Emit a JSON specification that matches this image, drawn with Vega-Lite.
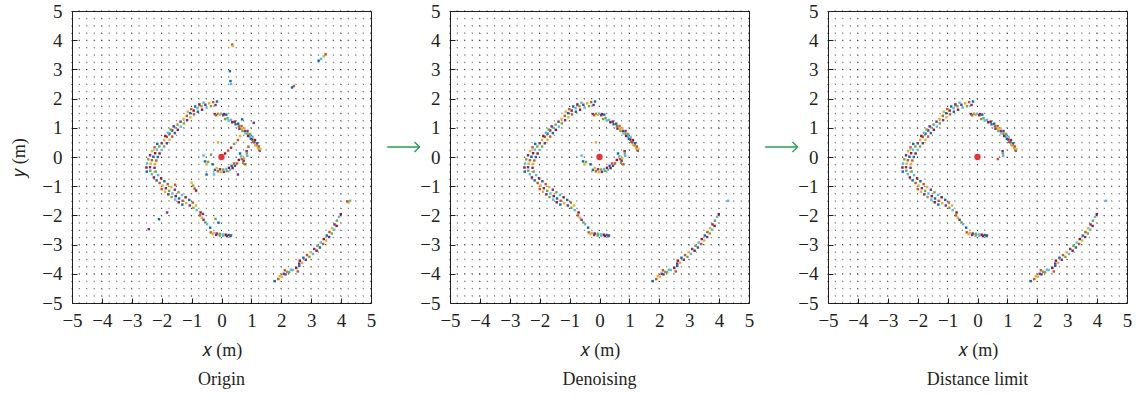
{
  "$schema": "https://vega.github.io/schema/vega-lite/v6.json",
  "padding": {"left": 10, "top": 1, "right": 2, "bottom": 2},
  "spacing": 9,
  "config": {
    "font": "Liberation Serif",
    "view": {"stroke": "#231F20", "strokeWidth": 1},
    "axis": {"labelOverlap": false, "labelBound": false, "tickCount": 20},
    "title": {"font": "Liberation Serif", "fontSize": 18, "fontWeight": "normal", "color": "#231F20"}
  },
  "datasets": {
    "grid": [{"v":-5},{"v":-4.75},{"v":-4.5},{"v":-4.25},{"v":-4},{"v":-3.75},{"v":-3.5},{"v":-3.25},{"v":-3},{"v":-2.75},{"v":-2.5},{"v":-2.25},{"v":-2},{"v":-1.75},{"v":-1.5},{"v":-1.25},{"v":-1},{"v":-0.75},{"v":-0.5},{"v":-0.25},{"v":0},{"v":0.25},{"v":0.5},{"v":0.75},{"v":1},{"v":1.25},{"v":1.5},{"v":1.75},{"v":2},{"v":2.25},{"v":2.5},{"v":2.75},{"v":3},{"v":3.25},{"v":3.5},{"v":3.75},{"v":4},{"v":4.25},{"v":4.5},{"v":4.75},{"v":5}],
    "origin": [{"x": 0, "y": 0}],
    "arrow": [{"x": -7.1, "x2": -6.02, "y": 0.34}],
    "pts": [
      {"x":-0.15,"y":1.9,"s":3,"c":0},{"x":-0.28,"y":1.88,"s":3,"c":1},{"x":-0.41,"y":1.84,"s":3,"c":2},{"x":-0.54,"y":1.79,"s":3,"c":3},{"x":-0.67,"y":1.74,"s":3,"c":4},{"x":-0.8,"y":1.67,"s":3,"c":5},{"x":-0.93,"y":1.59,"s":3,"c":6},{"x":-1.05,"y":1.5,"s":3,"c":0},{"x":-1.16,"y":1.41,"s":3,"c":1},{"x":-1.27,"y":1.31,"s":3,"c":2},{"x":-1.37,"y":1.21,"s":3,"c":3},{"x":-1.47,"y":1.11,"s":3,"c":4},{"x":-1.56,"y":1.01,"s":3,"c":5},{"x":-1.65,"y":0.91,"s":3,"c":6},{"x":-1.74,"y":0.8,"s":3,"c":0},{"x":-1.83,"y":0.69,"s":3,"c":1},{"x":-1.92,"y":0.58,"s":3,"c":2},{"x":-2.0,"y":0.47,"s":3,"c":3},{"x":-2.08,"y":0.36,"s":3,"c":4},{"x":-2.16,"y":0.25,"s":3,"c":5},{"x":-2.22,"y":0.13,"s":3,"c":6},{"x":-2.28,"y":0.01,"s":3,"c":0},{"x":-2.33,"y":-0.11,"s":3,"c":1},{"x":-2.37,"y":-0.23,"s":3,"c":2},{"x":-2.39,"y":-0.35,"s":3,"c":3},{"x":-2.38,"y":-0.47,"s":3,"c":4},{"x":-2.33,"y":-0.59,"s":3,"c":5},{"x":-2.26,"y":-0.7,"s":3,"c":6},{"x":-2.17,"y":-0.8,"s":3,"c":0},{"x":-2.07,"y":-0.89,"s":3,"c":1},{"x":-1.97,"y":-0.98,"s":3,"c":2},{"x":-1.86,"y":-1.07,"s":3,"c":3},{"x":-1.75,"y":-1.16,"s":3,"c":4},{"x":-1.64,"y":-1.25,"s":3,"c":5},{"x":-1.53,"y":-1.34,"s":3,"c":6},{"x":-1.42,"y":-1.42,"s":3,"c":0},{"x":-1.3,"y":-1.5,"s":3,"c":1},{"x":-1.18,"y":-1.58,"s":3,"c":2},{"x":-1.06,"y":-1.66,"s":3,"c":3},{"x":-0.94,"y":-1.74,"s":3,"c":4},{"x":-0.83,"y":-1.82,"s":3,"c":5},
      {"x":-0.2,"y":1.78,"s":3,"c":3},{"x":-0.35,"y":1.74,"s":3,"c":4},{"x":-0.5,"y":1.69,"s":3,"c":5},{"x":-0.65,"y":1.62,"s":3,"c":6},{"x":-0.79,"y":1.55,"s":3,"c":0},{"x":-0.92,"y":1.46,"s":3,"c":1},{"x":-1.04,"y":1.36,"s":3,"c":2},{"x":-1.15,"y":1.26,"s":3,"c":3},{"x":-1.26,"y":1.15,"s":3,"c":4},{"x":-1.36,"y":1.04,"s":3,"c":5},{"x":-1.46,"y":0.93,"s":3,"c":6},{"x":-1.56,"y":0.82,"s":3,"c":0},{"x":-1.65,"y":0.7,"s":3,"c":1},{"x":-1.74,"y":0.59,"s":3,"c":2},{"x":-1.83,"y":0.47,"s":3,"c":3},{"x":-1.92,"y":0.36,"s":3,"c":4},{"x":-2.0,"y":0.24,"s":3,"c":5},{"x":-2.07,"y":0.12,"s":3,"c":6},{"x":-2.13,"y":0.0,"s":3,"c":0},{"x":-2.18,"y":-0.12,"s":3,"c":1},{"x":-2.22,"y":-0.24,"s":3,"c":2},{"x":-2.24,"y":-0.37,"s":3,"c":3},{"x":-2.2,"y":-0.5,"s":3,"c":4},{"x":-2.12,"y":-0.62,"s":3,"c":5},{"x":-2.02,"y":-0.73,"s":3,"c":6},{"x":-1.91,"y":-0.83,"s":3,"c":0},{"x":-1.8,"y":-0.93,"s":3,"c":1},{"x":-1.68,"y":-1.03,"s":3,"c":2},{"x":-1.56,"y":-1.12,"s":3,"c":3},{"x":-1.44,"y":-1.21,"s":3,"c":4},{"x":-1.32,"y":-1.3,"s":3,"c":5},{"x":-1.2,"y":-1.38,"s":3,"c":6},{"x":-1.08,"y":-1.47,"s":3,"c":0},{"x":-0.96,"y":-1.56,"s":3,"c":1},{"x":-0.85,"y":-1.66,"s":3,"c":2},
      {"x":-0.6,"y":1.86,"s":3,"c":5},{"x":-0.74,"y":1.8,"s":3,"c":6},{"x":-0.88,"y":1.73,"s":3,"c":0},{"x":-1.01,"y":1.64,"s":3,"c":1},{"x":-1.13,"y":1.55,"s":3,"c":2},{"x":-1.6,"y":1.05,"s":3,"c":3},{"x":-1.7,"y":0.94,"s":3,"c":4},{"x":-1.79,"y":0.83,"s":3,"c":5},{"x":-1.88,"y":0.72,"s":3,"c":6},{"x":-2.15,"y":0.45,"s":3,"c":0},{"x":-2.24,"y":0.33,"s":3,"c":1},{"x":-2.32,"y":0.2,"s":3,"c":2},{"x":-2.39,"y":0.06,"s":3,"c":3},{"x":-2.45,"y":-0.08,"s":3,"c":4},{"x":-2.49,"y":-0.22,"s":3,"c":5},{"x":-2.51,"y":-0.36,"s":3,"c":6},{"x":-2.5,"y":-0.5,"s":3,"c":0},{"x":-2.0,"y":-1.1,"s":3,"c":1},{"x":-1.89,"y":-1.19,"s":3,"c":2},{"x":-1.78,"y":-1.28,"s":3,"c":3},{"x":-1.67,"y":-1.37,"s":3,"c":4},{"x":-1.55,"y":-1.46,"s":3,"c":5},{"x":-1.43,"y":-1.55,"s":3,"c":6},{"x":-1.31,"y":-1.63,"s":3,"c":0},
      {"x":-0.72,"y":-2.0,"s":3,"c":1},{"x":-0.66,"y":-2.08,"s":3,"c":2},{"x":-0.6,"y":-2.15,"s":3,"c":3},{"x":-0.54,"y":-2.24,"s":3,"c":4},{"x":-0.48,"y":-2.3,"s":3,"c":5},{"x":-0.7,"y":-1.9,"s":3,"c":6},{"x":-0.38,"y":-2.42,"s":3,"c":0},
      {"x":-0.36,"y":-2.58,"s":3,"c":1},{"x":-0.26,"y":-2.6,"s":3,"c":2},{"x":-0.16,"y":-2.62,"s":3,"c":3},{"x":-0.06,"y":-2.63,"s":3,"c":4},{"x":0.04,"y":-2.65,"s":3,"c":5},{"x":0.14,"y":-2.66,"s":3,"c":6},{"x":0.24,"y":-2.67,"s":3,"c":0},{"x":0.32,"y":-2.68,"s":3,"c":1},{"x":-0.3,"y":-2.64,"s":3,"c":2},{"x":-0.18,"y":-2.67,"s":3,"c":3},{"x":-0.06,"y":-2.69,"s":3,"c":4},{"x":0.06,"y":-2.7,"s":3,"c":5},{"x":0.18,"y":-2.71,"s":3,"c":6},{"x":0.3,"y":-2.71,"s":3,"c":0},
      {"x":-0.22,"y":1.47,"s":3,"c":3},{"x":-0.12,"y":1.48,"s":3,"c":4},{"x":-0.02,"y":1.48,"s":3,"c":5},{"x":0.08,"y":1.47,"s":3,"c":6},{"x":0.16,"y":1.45,"s":3,"c":0},{"x":-0.18,"y":1.43,"s":3,"c":1},{"x":-0.06,"y":1.44,"s":3,"c":2},{"x":0.06,"y":1.43,"s":3,"c":3},
      {"x":0.12,"y":1.3,"s":3,"c":4},{"x":0.24,"y":1.25,"s":3,"c":5},{"x":0.36,"y":1.19,"s":3,"c":6},{"x":0.47,"y":1.12,"s":3,"c":0},{"x":0.58,"y":1.05,"s":3,"c":1},{"x":0.68,"y":0.97,"s":3,"c":2},{"x":0.78,"y":0.89,"s":3,"c":3},{"x":0.87,"y":0.8,"s":3,"c":4},{"x":0.95,"y":0.7,"s":3,"c":5},{"x":1.03,"y":0.6,"s":3,"c":6},{"x":1.1,"y":0.5,"s":3,"c":0},{"x":1.17,"y":0.4,"s":3,"c":1},{"x":1.23,"y":0.3,"s":3,"c":2},{"x":1.28,"y":0.22,"s":3,"c":3},
      {"x":0.2,"y":1.33,"s":3,"c":4},{"x":0.32,"y":1.27,"s":3,"c":5},{"x":0.44,"y":1.21,"s":3,"c":6},{"x":0.56,"y":1.14,"s":3,"c":0},{"x":0.67,"y":1.06,"s":3,"c":1},{"x":0.77,"y":0.98,"s":3,"c":2},{"x":0.87,"y":0.89,"s":3,"c":3},{"x":0.96,"y":0.79,"s":3,"c":4},{"x":1.04,"y":0.69,"s":3,"c":5},{"x":1.12,"y":0.58,"s":3,"c":6},{"x":1.19,"y":0.47,"s":3,"c":0},{"x":1.25,"y":0.36,"s":3,"c":1},{"x":1.3,"y":0.27,"s":3,"c":2},
      {"x":0.6,"y":0.97,"s":3,"c":3},{"x":0.7,"y":0.89,"s":3,"c":4},{"x":0.8,"y":0.81,"s":3,"c":5},{"x":0.89,"y":0.72,"s":3,"c":6},{"x":0.98,"y":0.62,"s":3,"c":0},{"x":1.06,"y":0.52,"s":3,"c":1},{"x":1.13,"y":0.41,"s":3,"c":2},
      {"x":0.84,"y":0.2,"s":3,"c":3},{"x":0.85,"y":0.12,"s":3,"c":4},{"x":0.86,"y":0.04,"s":3,"c":5},{"x":0.68,"y":-0.07,"s":3,"c":1},
      {"x":1.78,"y":-4.25,"s":3,"c":0},{"x":1.9,"y":-4.18,"s":3,"c":1},{"x":2.02,"y":-4.1,"s":3,"c":2},{"x":2.14,"y":-4.02,"s":3,"c":3},{"x":2.26,"y":-3.95,"s":3,"c":4},{"x":2.38,"y":-3.87,"s":3,"c":5},{"x":2.5,"y":-3.8,"s":3,"c":6},{"x":2.6,"y":-3.73,"s":3,"c":0},
      {"x":1.95,"y":-4.08,"s":3,"c":2},{"x":2.08,"y":-4.0,"s":3,"c":3},{"x":2.2,"y":-3.93,"s":3,"c":4},{"x":2.32,"y":-3.86,"s":3,"c":5},{"x":2.55,"y":-3.92,"s":3,"c":1},{"x":2.12,"y":-3.88,"s":3,"c":1},
      {"x":2.62,"y":-3.55,"s":3,"c":6},{"x":2.74,"y":-3.45,"s":3,"c":0},{"x":2.86,"y":-3.36,"s":3,"c":1},{"x":2.98,"y":-3.26,"s":3,"c":2},{"x":3.1,"y":-3.15,"s":3,"c":3},{"x":3.21,"y":-3.04,"s":3,"c":4},{"x":3.32,"y":-2.93,"s":3,"c":5},{"x":3.42,"y":-2.81,"s":3,"c":6},{"x":3.52,"y":-2.69,"s":3,"c":0},{"x":3.61,"y":-2.57,"s":3,"c":1},{"x":3.7,"y":-2.44,"s":3,"c":2},{"x":3.78,"y":-2.31,"s":3,"c":3},{"x":3.86,"y":-2.18,"s":3,"c":4},{"x":3.93,"y":-2.05,"s":3,"c":5},{"x":3.99,"y":-1.96,"s":3,"c":6},
      {"x":2.7,"y":-3.62,"s":3,"c":2},{"x":2.82,"y":-3.52,"s":3,"c":3},{"x":2.94,"y":-3.42,"s":3,"c":4},{"x":3.06,"y":-3.32,"s":3,"c":5},{"x":3.18,"y":-3.21,"s":3,"c":6},{"x":3.29,"y":-3.1,"s":3,"c":0},{"x":3.4,"y":-2.98,"s":3,"c":1},{"x":3.5,"y":-2.86,"s":3,"c":2},{"x":3.6,"y":-2.74,"s":3,"c":3},{"x":3.69,"y":-2.62,"s":3,"c":4},{"x":3.77,"y":-2.49,"s":3,"c":5},{"x":3.85,"y":-2.36,"s":3,"c":6},
      {"x":2.6,"y":-3.65,"s":3,"c":3},{"x":4.3,"y":-1.5,"s":3,"c":5},
      {"x":-0.22,"y":-0.44,"s":2,"c":0},{"x":-0.12,"y":-0.49,"s":2,"c":1},{"x":-0.02,"y":-0.52,"s":2,"c":2},{"x":0.08,"y":-0.51,"s":2,"c":3},{"x":0.18,"y":-0.48,"s":2,"c":4},{"x":0.28,"y":-0.44,"s":2,"c":5},{"x":0.37,"y":-0.38,"s":2,"c":6},{"x":0.45,"y":-0.3,"s":2,"c":0},{"x":0.52,"y":-0.22,"s":2,"c":1},{"x":-0.16,"y":-0.38,"s":2,"c":2},{"x":-0.05,"y":-0.42,"s":2,"c":3},{"x":0.05,"y":-0.43,"s":2,"c":4},{"x":0.15,"y":-0.41,"s":2,"c":5},{"x":0.25,"y":-0.37,"s":2,"c":6},{"x":0.34,"y":-0.3,"s":2,"c":0},{"x":0.42,"y":-0.22,"s":2,"c":1},
      {"x":0.76,"y":-0.05,"s":2,"c":2},{"x":0.74,"y":-0.13,"s":2,"c":3},{"x":0.72,"y":-0.2,"s":2,"c":4},{"x":0.66,"y":0.02,"s":2,"c":5},{"x":0.58,"y":-0.1,"s":2,"c":6},{"x":0.62,"y":0.12,"s":2,"c":0},{"x":0.8,"y":-0.25,"s":2,"c":1},
      {"x":-0.45,"y":-0.17,"s":2,"c":4},{"x":-0.3,"y":-0.25,"s":2,"c":0},{"x":-0.12,"y":0.5,"s":2,"c":2},{"x":-0.6,"y":0.05,"s":2,"c":5},{"x":-0.55,"y":-0.15,"s":2,"c":0},{"x":-0.5,"y":-0.25,"s":2,"c":2},
      {"x":0.36,"y":3.85,"s":1,"c":1},{"x":0.38,"y":3.8,"s":1,"c":2},{"x":0.28,"y":2.94,"s":1,"c":0},{"x":0.3,"y":2.6,"s":1,"c":0},{"x":0.32,"y":2.5,"s":1,"c":5},{"x":2.42,"y":2.43,"s":1,"c":1},{"x":2.36,"y":2.38,"s":1,"c":0},{"x":3.25,"y":3.3,"s":1,"c":0},{"x":3.33,"y":3.36,"s":1,"c":5},{"x":3.42,"y":3.45,"s":1,"c":2},{"x":3.48,"y":3.52,"s":1,"c":1},{"x":4.25,"y":-1.56,"s":1,"c":2},{"x":4.2,"y":-1.52,"s":1,"c":1},{"x":-2.09,"y":-2.13,"s":1,"c":0},{"x":-2.43,"y":-2.47,"s":1,"c":3},{"x":-1.82,"y":-1.9,"s":1,"c":3},{"x":1.08,"y":1.17,"s":1,"c":3},{"x":0.69,"y":1.29,"s":1,"c":0},{"x":-1.0,"y":-0.88,"s":1,"c":2},{"x":-0.95,"y":-0.98,"s":1,"c":4},{"x":-0.9,"y":-1.08,"s":1,"c":1},{"x":-0.85,"y":-1.15,"s":1,"c":6},{"x":0.12,"y":0.12,"s":1,"c":6},{"x":0.22,"y":0.22,"s":1,"c":1},{"x":0.32,"y":0.32,"s":1,"c":3},{"x":0.42,"y":0.45,"s":1,"c":4},{"x":0.55,"y":0.58,"s":1,"c":1},{"x":0.62,"y":0.72,"s":1,"c":2},{"x":-0.35,"y":0.08,"s":1,"c":4},{"x":-0.5,"y":-0.6,"s":1,"c":0},{"x":-0.25,"y":-0.6,"s":1,"c":5},{"x":0.55,"y":-0.6,"s":1,"c":3},{"x":-1.55,"y":-0.95,"s":1,"c":1},{"x":-0.1,"y":-2.25,"s":1,"c":0},{"x":-0.2,"y":-2.12,"s":1,"c":4},{"x":-0.62,"y":-1.95,"s":1,"c":3},{"x":0.9,"y":0.35,"s":1,"c":1}
    ]
  },
  "hconcat": [
    {
      "width": 299, "height": 292,
      "title": {"text": "Origin", "orient": "bottom", "offset": 12},
      "layer": [
        {
          "data": {"name": "grid"},
          "mark": {"type": "rule", "color": "#000", "strokeWidth": 1, "strokeDash": [1, 6.3]},
          "encoding": {
            "x": {"field": "v", "type": "quantitative", "scale": {"domain": [-5, 5], "nice": false, "zero": false},
              "axis": {"title": "𝑥 (m)", "values": [-5,-4,-3,-2,-1,0,1,2,3,4,5], "tickCount": 20, "format": "d", "labelOverlap": false, "labelFlush": false,
                "labelFont": "Liberation Serif", "labelFontSize": 19, "labelColor": "#231F20", "labelPadding": 13,
                "titleFont": "Liberation Serif", "titleFontSize": 18, "titleFontWeight": "normal", "titleColor": "#231F20", "titlePadding": 11,
                "domain": false, "ticks": true, "tickSize": -5, "tickColor": "#231F20", "grid": false}},
            "opacity": {"condition": {"test": "datum.v % 1 === 0", "value": 0.85}, "value": 0.45}
          }
        },
        {
          "data": {"name": "grid"},
          "mark": {"type": "rule", "color": "#000", "strokeWidth": 1, "strokeDash": [1, 6.47]},
          "encoding": {
            "y": {"field": "v", "type": "quantitative", "scale": {"domain": [-5, 5], "nice": false, "zero": false},
              "axis": {"title": "𝑦 (m)", "values": [-5,-4,-3,-2,-1,0,1,2,3,4,5], "tickCount": 20, "format": "d", "labelOverlap": false, "labelFlush": false,
                "labelFont": "Liberation Serif", "labelFontSize": 19, "labelColor": "#231F20", "labelPadding": 15,
                "titleFont": "Liberation Serif", "titleFontSize": 18, "titleFontWeight": "normal", "titleColor": "#231F20", "titlePadding": 13,
                "domain": false, "ticks": true, "tickSize": -5, "tickColor": "#231F20", "grid": false}},
            "opacity": {"condition": {"test": "datum.v % 1 === 0", "value": 0.85}, "value": 0.45}
          }
        },
        {
          "data": {"name": "pts"},
          "mark": {"type": "point", "shape": "square", "filled": true, "size": 6, "opacity": 1},
          "encoding": {
            "x": {"field": "x", "type": "quantitative"},
            "y": {"field": "y", "type": "quantitative"},
            "color": {"field": "c", "type": "nominal", "legend": null,
              "scale": {"domain": [0,1,2,3,4,5,6], "range": ["#0072BD","#D95319","#EDB120","#7E2F8E","#77AC30","#4DBEEE","#A2142F"]}}
          }
        },
        {
          "data": {"name": "origin"},
          "mark": {"type": "point", "shape": "circle", "filled": true, "size": 40, "color": "#F03030", "opacity": 1},
          "encoding": {"x": {"field": "x", "type": "quantitative"}, "y": {"field": "y", "type": "quantitative"}}
        }
      ]
    },
    {
      "width": 299, "height": 292,
      "title": {"text": "Denoising", "orient": "bottom", "offset": 12},
      "layer": [
        {
          "data": {"name": "grid"},
          "mark": {"type": "rule", "color": "#000", "strokeWidth": 1, "strokeDash": [1, 6.3]},
          "encoding": {
            "x": {"field": "v", "type": "quantitative", "scale": {"domain": [-5, 5], "nice": false, "zero": false},
              "axis": {"title": "𝑥 (m)", "values": [-5,-4,-3,-2,-1,0,1,2,3,4,5], "tickCount": 20, "format": "d", "labelOverlap": false, "labelFlush": false,
                "labelFont": "Liberation Serif", "labelFontSize": 19, "labelColor": "#231F20", "labelPadding": 13,
                "titleFont": "Liberation Serif", "titleFontSize": 18, "titleFontWeight": "normal", "titleColor": "#231F20", "titlePadding": 11,
                "domain": false, "ticks": true, "tickSize": -5, "tickColor": "#231F20", "grid": false}},
            "opacity": {"condition": {"test": "datum.v % 1 === 0", "value": 0.85}, "value": 0.45}
          }
        },
        {
          "data": {"name": "grid"},
          "mark": {"type": "rule", "color": "#000", "strokeWidth": 1, "strokeDash": [1, 6.47]},
          "encoding": {
            "y": {"field": "v", "type": "quantitative", "scale": {"domain": [-5, 5], "nice": false, "zero": false},
              "axis": {"title": null, "values": [-5,-4,-3,-2,-1,0,1,2,3,4,5], "tickCount": 20, "format": "d", "labelOverlap": false, "labelFlush": false,
                "labelFont": "Liberation Serif", "labelFontSize": 19, "labelColor": "#231F20", "labelPadding": 15,
                "domain": false, "ticks": true, "tickSize": -5, "tickColor": "#231F20", "grid": false}},
            "opacity": {"condition": {"test": "datum.v % 1 === 0", "value": 0.85}, "value": 0.45}
          }
        },
        {
          "data": {"name": "pts"},
          "transform": [{"filter": "datum.s >= 2"}],
          "mark": {"type": "point", "shape": "square", "filled": true, "size": 6, "opacity": 1},
          "encoding": {
            "x": {"field": "x", "type": "quantitative"},
            "y": {"field": "y", "type": "quantitative"},
            "color": {"field": "c", "type": "nominal", "legend": null,
              "scale": {"domain": [0,1,2,3,4,5,6], "range": ["#0072BD","#D95319","#EDB120","#7E2F8E","#77AC30","#4DBEEE","#A2142F"]}}
          }
        },
        {
          "data": {"name": "origin"},
          "mark": {"type": "point", "shape": "circle", "filled": true, "size": 40, "color": "#F03030", "opacity": 1},
          "encoding": {"x": {"field": "x", "type": "quantitative"}, "y": {"field": "y", "type": "quantitative"}}
        },
        {
          "data": {"name": "arrow"},
          "mark": {"type": "rule", "color": "#22A04B", "strokeWidth": 1.4, "clip": false},
          "encoding": {"x": {"field": "x", "type": "quantitative"}, "x2": {"field": "x2"}, "y": {"field": "y", "type": "quantitative"}}
        },
        {
          "data": {"name": "arrow"},
          "mark": {"type": "point", "shape": "M-1,-1L0,0L-1,1", "filled": false, "size": 100, "strokeWidth": 1.4, "color": "#22A04B", "opacity": 1, "clip": false},
          "encoding": {"x": {"field": "x2", "type": "quantitative"}, "y": {"field": "y", "type": "quantitative"}}
        }
      ]
    },
    {
      "width": 299, "height": 292,
      "title": {"text": "Distance limit", "orient": "bottom", "offset": 12},
      "layer": [
        {
          "data": {"name": "grid"},
          "mark": {"type": "rule", "color": "#000", "strokeWidth": 1, "strokeDash": [1, 6.3]},
          "encoding": {
            "x": {"field": "v", "type": "quantitative", "scale": {"domain": [-5, 5], "nice": false, "zero": false},
              "axis": {"title": "𝑥 (m)", "values": [-5,-4,-3,-2,-1,0,1,2,3,4,5], "tickCount": 20, "format": "d", "labelOverlap": false, "labelFlush": false,
                "labelFont": "Liberation Serif", "labelFontSize": 19, "labelColor": "#231F20", "labelPadding": 13,
                "titleFont": "Liberation Serif", "titleFontSize": 18, "titleFontWeight": "normal", "titleColor": "#231F20", "titlePadding": 11,
                "domain": false, "ticks": true, "tickSize": -5, "tickColor": "#231F20", "grid": false}},
            "opacity": {"condition": {"test": "datum.v % 1 === 0", "value": 0.85}, "value": 0.45}
          }
        },
        {
          "data": {"name": "grid"},
          "mark": {"type": "rule", "color": "#000", "strokeWidth": 1, "strokeDash": [1, 6.47]},
          "encoding": {
            "y": {"field": "v", "type": "quantitative", "scale": {"domain": [-5, 5], "nice": false, "zero": false},
              "axis": {"title": null, "values": [-5,-4,-3,-2,-1,0,1,2,3,4,5], "tickCount": 20, "format": "d", "labelOverlap": false, "labelFlush": false,
                "labelFont": "Liberation Serif", "labelFontSize": 19, "labelColor": "#231F20", "labelPadding": 15,
                "domain": false, "ticks": true, "tickSize": -5, "tickColor": "#231F20", "grid": false}},
            "opacity": {"condition": {"test": "datum.v % 1 === 0", "value": 0.85}, "value": 0.45}
          }
        },
        {
          "data": {"name": "pts"},
          "transform": [{"filter": "datum.s >= 3"}],
          "mark": {"type": "point", "shape": "square", "filled": true, "size": 6, "opacity": 1},
          "encoding": {
            "x": {"field": "x", "type": "quantitative"},
            "y": {"field": "y", "type": "quantitative"},
            "color": {"field": "c", "type": "nominal", "legend": null,
              "scale": {"domain": [0,1,2,3,4,5,6], "range": ["#0072BD","#D95319","#EDB120","#7E2F8E","#77AC30","#4DBEEE","#A2142F"]}}
          }
        },
        {
          "data": {"name": "origin"},
          "mark": {"type": "point", "shape": "circle", "filled": true, "size": 40, "color": "#F03030", "opacity": 1},
          "encoding": {"x": {"field": "x", "type": "quantitative"}, "y": {"field": "y", "type": "quantitative"}}
        },
        {
          "data": {"name": "arrow"},
          "mark": {"type": "rule", "color": "#22A04B", "strokeWidth": 1.4, "clip": false},
          "encoding": {"x": {"field": "x", "type": "quantitative"}, "x2": {"field": "x2"}, "y": {"field": "y", "type": "quantitative"}}
        },
        {
          "data": {"name": "arrow"},
          "mark": {"type": "point", "shape": "M-1,-1L0,0L-1,1", "filled": false, "size": 100, "strokeWidth": 1.4, "color": "#22A04B", "opacity": 1, "clip": false},
          "encoding": {"x": {"field": "x2", "type": "quantitative"}, "y": {"field": "y", "type": "quantitative"}}
        }
      ]
    }
  ]
}
